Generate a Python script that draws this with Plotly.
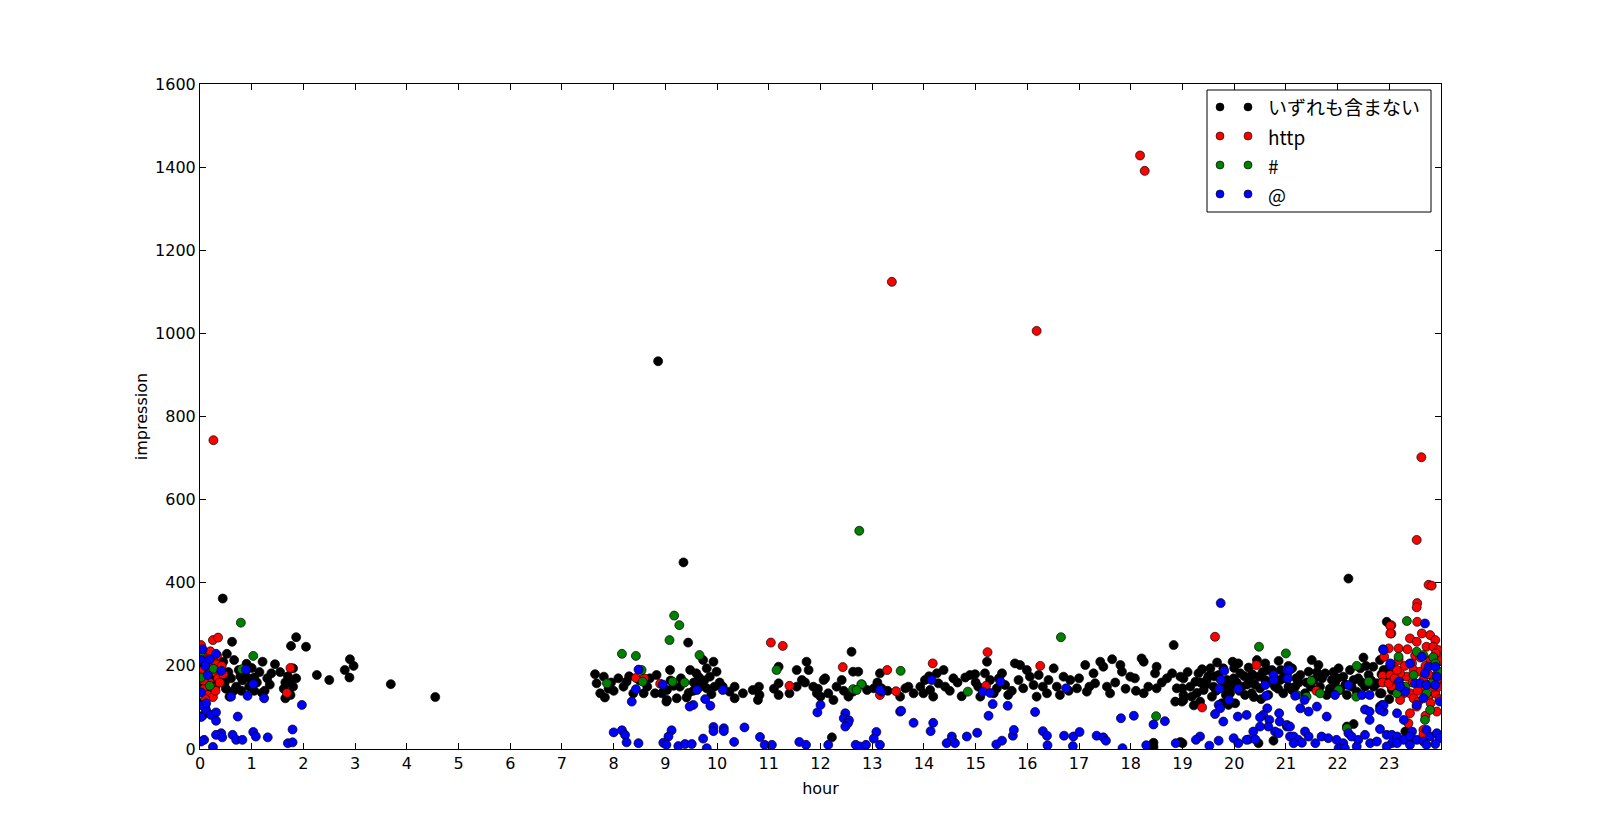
import plotly.graph_objects as go

# (hour, impression) pairs per tweet category
none_points = [
    (0.44, 362), (0.62, 258), (1.86, 269), (1.76, 248), (2.05, 246), (0.52, 229), (0.66, 214), (1.21, 210),
    (1.45, 204), (1.80, 194), (2.26, 178), (1.65, 160), (1.80, 150), (1.86, 170), (1.70, 175), (1.65, 122),
    (0.57, 126), (0.30, 150), (0.35, 175), (0.40, 195), (0.48, 160), (0.55, 185), (0.60, 170), (0.70, 150),
    (0.75, 190), (0.82, 165), (0.88, 178), (0.95, 150), (1.00, 195), (1.05, 172), (1.10, 160), (1.15, 185),
    (1.30, 170), (1.38, 182), (1.25, 140), (0.65, 140), (0.90, 205), (1.05, 140), (2.50, 166), (2.80, 190),
    (2.90, 216), (2.97, 200), (2.89, 172), (3.69, 156), (4.55, 125), (0.05, 80), (0.10, 100), (0.15, 130),
    (0.20, 220), (0.25, 165), (1.20, 135), (1.75, 130), (0.80, 140), (1.55, 185), (0.45, 210), (0.02, 110),
    (0.08, 155), (1.62, 145), (1.72, 160), (0.50, 145), (1.35, 155), (0.78, 175), (0.98, 168),
    (7.64, 180), (7.81, 174), (7.67, 158), (7.74, 134), (7.83, 124), (8.09, 170), (8.19, 150), (8.25, 162),
    (8.38, 134), (8.58, 134), (8.83, 178), (8.80, 134), (8.93, 134), (9.03, 118), (9.09, 190), (8.86, 933),
    (9.35, 449), (9.44, 256), (9.73, 214), (9.93, 210), (9.48, 190), (9.60, 182), (9.80, 194), (9.86, 174),
    (9.99, 186), (9.22, 122), (9.41, 124), (9.54, 140), (9.67, 150), (9.80, 146), (9.89, 132), (9.03, 142),
    (9.16, 152), (9.28, 150), (9.02, 114), (7.95, 160), (8.00, 140), (8.30, 175), (8.50, 165), (8.65, 150),
    (8.70, 170), (9.10, 165), (9.30, 170), (9.55, 160), (9.65, 172), (9.75, 165), (9.95, 150), (10.05, 160),
    (9.45, 135), (7.90, 145),
    (10.11, 150), (10.24, 138), (10.34, 150), (10.34, 122), (10.50, 134), (10.69, 142), (10.81, 150),
    (10.79, 118), (10.82, 130), (11.19, 158), (11.19, 130), (11.40, 134), (11.54, 150), (11.64, 166),
    (11.54, 190), (11.73, 210), (11.77, 190), (11.86, 150), (11.93, 134), (12.06, 166), (12.09, 170),
    (12.00, 126), (12.15, 134), (12.25, 118), (12.31, 150), (12.41, 166), (12.60, 234), (12.63, 186),
    (12.73, 186), (12.54, 126), (12.63, 138), (12.90, 142), (13.03, 146), (13.15, 182), (13.18, 146),
    (12.22, 28), (11.19, 198), (11.70, 160), (11.95, 145), (12.45, 140), (12.80, 155), (13.10, 160),
    (13.30, 140), (11.10, 145),
    (13.54, 126), (13.64, 146), (13.80, 134), (13.93, 150), (14.02, 166), (13.99, 134), (14.12, 142),
    (14.18, 126), (14.25, 182), (14.28, 158), (14.38, 190), (14.41, 150), (14.57, 170), (14.73, 127),
    (14.80, 172), (14.89, 178), (14.99, 180), (15.05, 150), (15.09, 126), (15.18, 182), (15.22, 210),
    (15.28, 166), (15.35, 134), (15.41, 146), (15.51, 182), (15.57, 154), (15.63, 130), (15.76, 206),
    (15.86, 202), (15.83, 166), (15.92, 146), (15.99, 190), (16.05, 174), (16.12, 154), (16.18, 126),
    (16.22, 178), (16.38, 134), (16.41, 166), (16.51, 194), (16.57, 150), (16.63, 130), (16.70, 174),
    (16.83, 166), (16.96, 146), (17.12, 202), (17.15, 138), (17.28, 182), (17.31, 158), (17.41, 210),
    (17.47, 198), (17.54, 150), (17.60, 134), (17.64, 216), (17.80, 202), (17.83, 186), (17.99, 174),
    (18.08, 170), (18.21, 218), (18.25, 210), (18.25, 134), (18.34, 150), (18.50, 198), (18.50, 146),
    (18.47, 182), (18.70, 170), (18.83, 250), (18.80, 182), (18.89, 146), (18.96, 174), (19.02, 130),
    (18.86, 114), (18.99, 114), (18.96, 17), (18.44, 15), (18.44, 5), (13.70, 150), (14.50, 140),
    (14.65, 160), (15.00, 160), (15.45, 170), (15.70, 140), (16.30, 150), (16.80, 140), (17.00, 170),
    (17.20, 150), (17.70, 160), (17.90, 145), (18.60, 160), (18.10, 140), (14.10, 175),
    (19.02, 170), (19.00, 146), (19.02, 118), (19.18, 126), (19.25, 162), (19.31, 182), (19.38, 192),
    (19.41, 142), (19.47, 166), (19.54, 194), (19.57, 126), (19.60, 150), (19.67, 208), (19.70, 178),
    (19.76, 110), (19.86, 166), (19.92, 134), (19.97, 210), (19.99, 170), (20.02, 110), (20.12, 182),
    (20.15, 150), (20.21, 130), (20.28, 196), (20.31, 166), (20.34, 134), (20.44, 214), (20.47, 174),
    (20.50, 146), (20.60, 206), (20.60, 166), (20.66, 130), (20.73, 190), (20.79, 150), (20.86, 212),
    (20.89, 166), (20.95, 134), (21.02, 182), (21.05, 150), (20.08, 206), (19.34, 114), (19.79, 194),
    (19.89, 106), (19.00, 14), (20.47, 14), (20.76, 20), (19.15, 150), (19.45, 155), (19.65, 140),
    (19.80, 150), (20.05, 160), (20.20, 175), (20.40, 155), (20.55, 185), (20.70, 160), (20.85, 145),
    (19.28, 135), (20.00, 195), (20.38, 125), (19.50, 175), (20.95, 170),
    (19.10, 185), (19.35, 160), (19.62, 175), (19.84, 130), (20.10, 140), (20.25, 155), (20.52, 120),
    (20.65, 190), (20.90, 190), (19.22, 105), (19.95, 150), (20.35, 180),
    (20.99, 174), (21.12, 194), (21.18, 150), (21.28, 178), (21.37, 134), (21.44, 186), (21.50, 214),
    (21.54, 166), (21.63, 202), (21.66, 150), (21.76, 182), (21.79, 130), (21.89, 166), (22.02, 194),
    (22.05, 142), (22.11, 174), (22.18, 130), (22.24, 190), (22.31, 166), (22.37, 138), (22.44, 194),
    (22.50, 220), (22.53, 150), (22.60, 178), (22.69, 198), (22.76, 158), (22.82, 134), (22.92, 166),
    (22.95, 306), (22.99, 194), (23.05, 142), (22.21, 410), (22.31, 60), (22.18, 54), (21.12, 142),
    (21.95, 158), (21.25, 160), (21.60, 185), (21.85, 145), (22.15, 155), (22.40, 170), (22.70, 150),
    (21.40, 160), (22.00, 170), (22.55, 200), (21.05, 200),
    (21.20, 170), (21.48, 150), (21.70, 170), (21.92, 185), (22.27, 150), (22.47, 160), (22.65, 165),
    (22.85, 180),
    (22.82, 214), (22.89, 190), (22.85, 134), (22.82, 102), (23.31, 42), (23.10, 150), (23.20, 170),
    (23.00, 120),
]

http_points = [
    (0.26, 743), (0.25, 262), (0.35, 268), (0.02, 250), (0.10, 230), (0.15, 215), (0.20, 200), (0.05, 190),
    (0.12, 175), (0.18, 160), (0.22, 150), (0.28, 185), (0.30, 205), (0.35, 170), (0.40, 195), (0.08, 145),
    (0.15, 130), (0.25, 125), (0.30, 140), (0.38, 160), (0.45, 180), (0.42, 200), (0.03, 210), (1.75, 195),
    (1.68, 135), (0.10, 120), (0.20, 235), (0.07, 165), (0.33, 225),
    (8.43, 171), (8.59, 170), (8.90, 157),
    (11.04, 256), (11.27, 248), (11.40, 152), (12.43, 197), (13.29, 190), (13.15, 130), (13.46, 139),
    (13.38, 1124), (15.23, 233), (14.17, 206), (16.25, 200), (15.20, 152), (16.18, 1006),
    (18.18, 1428), (18.27, 1391), (19.63, 270), (19.38, 100), (20.43, 202),
    (21.59, 140), (23.04, 298), (23.04, 278), (22.90, 222), (22.87, 176), (22.87, 160), (23.04, 151),
    (23.53, 503), (23.76, 395), (23.82, 393), (23.54, 351), (23.53, 341), (23.02, 296), (23.02, 278),
    (23.54, 306), (23.40, 266), (23.63, 278), (23.79, 274), (23.89, 262), (23.62, 702),
    (23.53, 258), (23.72, 246), (23.85, 246), (23.95, 238), (23.18, 242), (22.99, 242), (23.18, 214),
    (23.02, 178), (22.99, 158), (23.21, 154), (23.34, 174), (23.44, 206), (23.47, 190), (23.60, 186),
    (23.66, 166), (23.85, 174), (23.95, 186), (23.98, 214), (23.28, 134), (23.40, 134), (23.47, 122),
    (23.56, 114), (23.76, 126), (23.89, 134), (23.95, 150), (23.37, 62), (23.66, 46), (23.66, 34),
    (23.53, 102), (23.21, 118), (23.40, 86), (23.08, 198), (23.79, 214), (23.92, 166), (23.21, 182),
    (23.85, 150), (23.60, 146), (23.30, 200), (23.50, 225), (23.70, 200), (23.90, 230), (23.15, 190),
    (23.45, 160), (23.75, 180), (23.25, 150), (23.60, 220), (23.80, 110), (23.92, 90), (23.70, 80),
    (23.55, 140), (23.35, 240), (23.10, 170), (23.97, 120),
]

hash_points = [
    (0.79, 304), (1.03, 224), (0.81, 192), (0.26, 193), (0.19, 152), (0.02, 233), (0.02, 172),
    (9.17, 321), (9.27, 298), (9.08, 262), (8.16, 229), (8.43, 224), (9.66, 226), (8.54, 190), (7.87, 158),
    (9.14, 162), (9.37, 160), (8.56, 162),
    (11.15, 190), (12.63, 144), (12.79, 156), (12.70, 142), (12.75, 525), (13.55, 188),
    (16.65, 269), (14.85, 138), (18.49, 79),
    (20.48, 246), (21.00, 230), (22.37, 200), (22.60, 162), (21.49, 164), (21.66, 134), (21.40, 126),
    (21.21, 130), (22.02, 142), (22.36, 126), (22.18, 50),
    (23.34, 308), (23.18, 222), (23.53, 234), (23.66, 226), (23.85, 221), (23.47, 178), (23.82, 158),
    (23.72, 134), (23.15, 134), (23.79, 94), (23.69, 70), (23.95, 186), (23.89, 206), (23.31, 150),
]

at_points = [
    (0.31, 229), (0.02, 214), (0.19, 216), (0.41, 188), (0.15, 178), (0.02, 136), (0.89, 191), (1.03, 156),
    (0.92, 128), (0.60, 126), (1.24, 122), (0.73, 78), (1.97, 106), (0.12, 93), (0.21, 82), (0.31, 88),
    (0.31, 68), (0.02, 77), (0.41, 38), (0.31, 34), (0.08, 22), (0.02, 18), (0.25, 5), (0.43, 28),
    (0.63, 34), (0.70, 22), (0.82, 22), (1.03, 41), (1.08, 30), (1.31, 28), (1.79, 47), (1.70, 14),
    (1.79, 16), (0.05, 240), (0.10, 200), (0.02, 105), (0.12, 110),
    (8.48, 191), (8.43, 144), (8.35, 114), (8.95, 155), (9.61, 142), (9.54, 106), (9.47, 102), (9.77, 120),
    (9.87, 104), (10.11, 142), (8.00, 40), (8.16, 45), (8.22, 34), (8.25, 16), (8.48, 14), (9.12, 45),
    (9.06, 30), (8.96, 15), (9.02, 10), (9.25, 7), (9.38, 12), (9.51, 12), (9.73, 25), (9.93, 53),
    (9.80, 2), (9.93, 43),
    (12.00, 106), (11.94, 88), (12.48, 86), (12.45, 74), (12.55, 69), (12.53, 62), (12.48, 54), (13.08, 41),
    (13.03, 25), (13.15, 10), (13.18, 138), (13.15, 142), (13.54, 90), (10.53, 52), (10.33, 17), (10.83, 29),
    (10.92, 10), (11.06, 10), (10.13, 50), (10.13, 43), (11.59, 17), (11.72, 10), (12.15, 10), (12.68, 10),
    (12.76, 6), (12.88, 10),
    (14.15, 166), (15.48, 162), (15.14, 138), (15.28, 135), (16.75, 146), (13.56, 92), (13.80, 63),
    (14.18, 63), (14.13, 43), (14.54, 30), (14.54, 22), (14.44, 14), (14.60, 14), (14.83, 30), (15.03, 39),
    (15.25, 80), (15.33, 108), (15.62, 104), (15.40, 11), (15.51, 20), (15.72, 32), (15.74, 46),
    (16.30, 43), (16.38, 32), (16.39, 9), (16.15, 89), (16.71, 32), (16.89, 30), (16.88, 7), (17.01, 41),
    (17.34, 32), (17.47, 28), (17.52, 20), (17.81, 74), (18.06, 80), (17.84, 2), (18.30, 9), (18.44, 59),
    (18.66, 67), (18.87, 14), (19.74, 351),
    (19.81, 188), (19.74, 166), (19.71, 145), (20.08, 145), (19.90, 118), (19.70, 106), (19.73, 98),
    (19.63, 84), (19.79, 66), (20.07, 78), (20.24, 82), (20.60, 154), (20.76, 178), (20.76, 166),
    (21.02, 190), (21.02, 170), (20.62, 128), (20.64, 98), (20.56, 82), (20.50, 76), (20.68, 70),
    (20.87, 86), (20.88, 66), (20.66, 54), (20.50, 54), (20.79, 42), (20.86, 38), (21.02, 54), (20.37, 42),
    (20.28, 23), (20.41, 23), (20.24, 22), (19.99, 26), (20.08, 14), (19.70, 20), (19.52, 8), (19.34, 30),
    (19.26, 22), (21.08, 30),
    (22.88, 240), (23.02, 202), (21.07, 190), (21.04, 170), (21.18, 128), (21.36, 118), (21.28, 98),
    (21.44, 90), (21.60, 102), (21.79, 78), (21.95, 130), (22.21, 154), (22.47, 130), (22.62, 130),
    (22.53, 95), (22.62, 90), (22.62, 70), (22.86, 106), (22.89, 90), (22.82, 48), (21.02, 58), (21.08, 54),
    (21.15, 30), (21.24, 22), (21.37, 42), (21.44, 30), (21.57, 14), (21.69, 30), (21.82, 26), (21.98, 22),
    (22.11, 14), (22.21, 38), (22.27, 30), (22.40, 22), (22.53, 34), (22.63, 14), (22.76, 18), (22.95, 34),
    (23.05, 14), (21.15, 14), (21.31, 15), (22.02, 2), (22.14, 2), (22.37, 6), (22.95, 6),
    (23.69, 302), (22.89, 238), (23.02, 206), (23.63, 222), (23.76, 198), (23.89, 198), (23.40, 206),
    (23.18, 162), (23.31, 138), (23.50, 158), (23.60, 158), (23.72, 154), (23.89, 154), (23.92, 174),
    (23.53, 106), (23.66, 122), (22.89, 106), (22.82, 94), (23.15, 86), (23.28, 70), (23.44, 42),
    (23.72, 46), (23.21, 150), (23.98, 114), (23.69, 182), (23.05, 34), (23.15, 30), (23.28, 22),
    (23.40, 30), (23.53, 22), (23.66, 18), (23.79, 30), (23.92, 38), (23.98, 26), (23.15, 14), (23.40, 10),
    (23.72, 10), (23.89, 12),
]

series = [
    ("いずれも含まない", none_points, "#000000"),
    ("http", http_points, "#ff0000"),
    ("#", hash_points, "#008000"),
    ("@", at_points, "#0000ff"),
]

hour_ticks = list(range(24))
impression_ticks = list(range(0, 1601, 200))

# plot box in page pixels (matplotlib-style axes)
W, H = 1600, 834
L, R, T, B = 200, 1441, 84, 749


def px_x(px):
    return (px - L) / (R - L)


def px_y(py):
    return (B - py) / (B - T)


fig = go.Figure()
for name, pts, color in series:
    fig.add_trace(
        go.Scatter(
            x=[p[0] for p in pts],
            y=[p[1] for p in pts],
            mode="markers",
            name=name,
            marker=dict(size=9, color=color, line=dict(color="#000000", width=0.7)),
            showlegend=False,
        )
    )

# legend drawn by hand: two markers per row like the old matplotlib default
shapes = [
    dict(type="rect", xref="paper", yref="paper",
         x0=px_x(1207), x1=px_x(1431), y0=px_y(212), y1=px_y(90),
         line=dict(color="#000000", width=1), fillcolor="#ffffff", layer="above")
]
annotations = []
row_y = [107, 136, 165, 194]
for (name, _, color), ry in zip(series, row_y):
    for mx in (1220, 1248):
        shapes.append(dict(
            type="circle", xref="paper", yref="paper", xsizemode="pixel", ysizemode="pixel",
            xanchor=px_x(mx), yanchor=px_y(ry), x0=-4, x1=4, y0=-4, y1=4,
            fillcolor=color, line=dict(color="#000000", width=0.6), layer="above",
        ))
    annotations.append(dict(
        xref="paper", yref="paper", x=px_x(1266), y=px_y(ry), xanchor="left", yanchor="middle",
        text=name, showarrow=False, font=dict(family="Noto Sans CJK JP", size=19, color="#000000"),
    ))

label_font = dict(family="DejaVu Sans", size=16, color="#000000")
axis_common = dict(
    showline=True, linecolor="#000000", linewidth=1, mirror="ticks",
    ticks="inside", ticklen=6, tickcolor="#000000", tickwidth=1,
    showgrid=False, zeroline=False,
    tickfont=label_font,
)

fig.update_layout(
    width=W, height=H,
    margin=dict(l=L, r=W - R, t=T, b=H - B),
    paper_bgcolor="#ffffff", plot_bgcolor="#ffffff",
    xaxis=dict(range=[0, 24], tickvals=hour_ticks,
               title=dict(text="hour", font=label_font, standoff=10),
               **axis_common),
    yaxis=dict(range=[0, 1600], tickvals=impression_ticks,
               title=dict(text="impression", font=label_font, standoff=3),
               **axis_common),
    shapes=shapes,
    annotations=annotations,
    showlegend=False,
)

fig.write_html(
    "out.html",
    config={"displayModeBar": False},
    post_script="document.body.style.margin='0px';",
)
